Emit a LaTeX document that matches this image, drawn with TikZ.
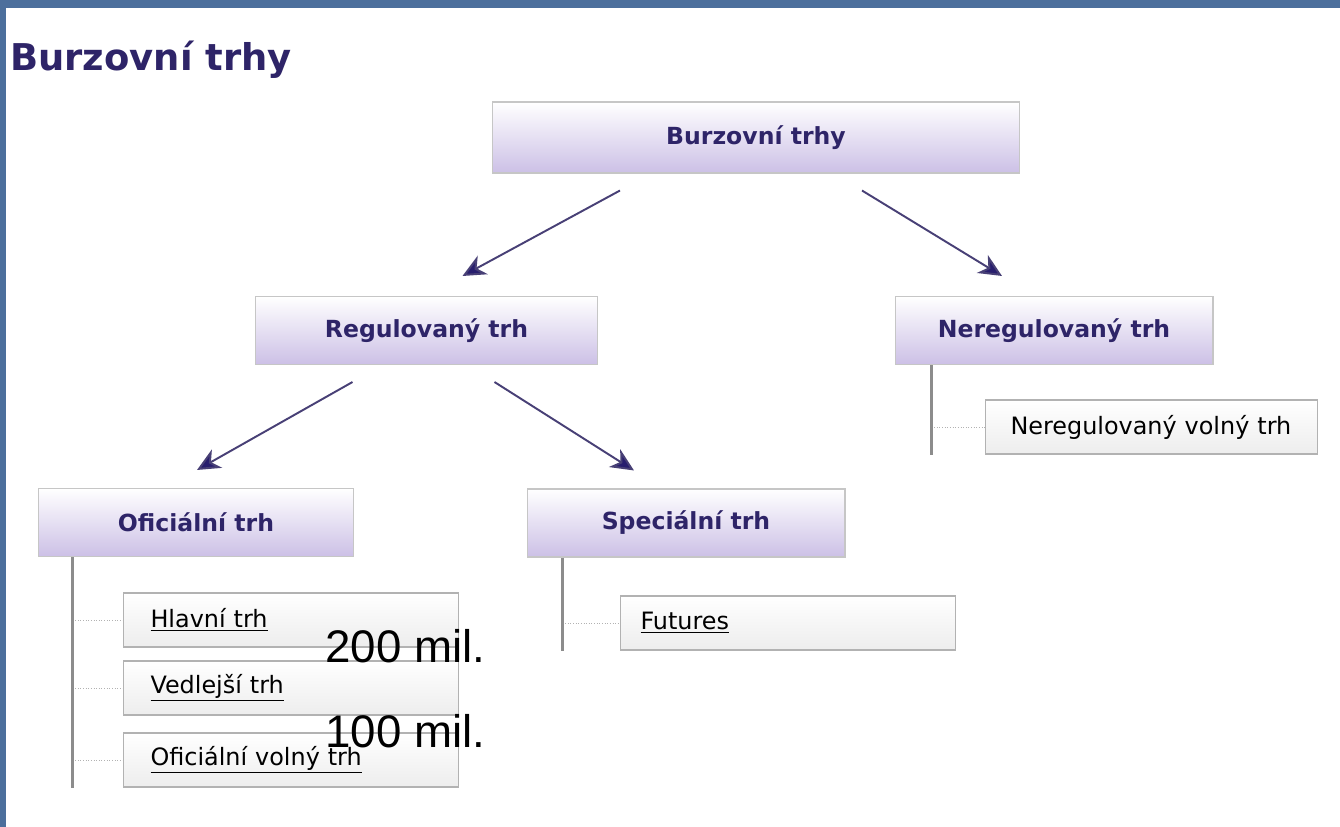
\documentclass[tikz,border=0pt]{standalone}
\usepackage{fontspec}
\newfontfamily\dejavu{DejaVu Sans}
\newfontfamily\arial{Liberation Sans}
\usetikzlibrary{arrows.meta,calc}
\definecolor{frameblue}{RGB}{76,111,156}
\definecolor{lav}{RGB}{204,192,230}
\definecolor{ink}{RGB}{46,36,104}
\definecolor{arrowcol}{RGB}{72,64,118}
\definecolor{headcol}{RGB}{40,30,110}
\tikzset{
  head/.style={draw=gray!45, line width=.6pt, top color=white, bottom color=lav,
    font=\dejavu\bfseries\fontsize{13.4}{15}\selectfont, text=ink,
    inner sep=0pt, minimum height=1.36cm},
  item/.style={draw=gray!60, line width=.6pt, top color=white, bottom color=gray!14,
    font=\dejavu\fontsize{13.6}{16}\selectfont, inner xsep=.54cm, inner ysep=0pt,
    minimum height=1.08cm, text width=5.62cm, align=left, anchor=west},
  arr/.style={draw=arrowcol, line width=1.1pt,
    -{Stealth[length=.46cm,width=.42cm,inset=.14cm,fill=headcol]}},
  bar/.style={draw=gray!90, line width=2pt},
  dotline/.style={draw=gray!60, densely dotted, line width=.5pt},
  big/.style={anchor=base west, inner sep=0pt, font=\arial\fontsize{26}{30}\selectfont}
}
\begin{document}
\begin{tikzpicture}[x=.02cm,y=-.02cm]
  % frame
  \fill[frameblue] (0,0) rectangle (1340,827);
  \fill[white] (6,8) rectangle (1340,827);
  \node[anchor=base west, inner sep=0pt, text=ink,
        font=\dejavu\bfseries\fontsize{21}{24}\selectfont] (title) at (10,71) {Burzovní trhy};

  % tree
  \node[head, minimum width=10.56cm, minimum height=1.42cm] (top) at (756,137.5) {Burzovní trhy};
  \node[head, minimum width=6.86cm] (reg) at (426.5,330.5) {Regulovaný trh};
  \node[head, minimum width=6.36cm] (nereg) at (1054,330.5) {Neregulovaný trh};
  \node[head, minimum width=6.32cm] (ofic) at (196,522.5) {Oficiální trh};
  \node[head, minimum width=6.36cm] (spec) at (686,523) {Speciální trh};

  \draw[arr] ($(top.south)+(-136,17)$) -- ($(reg.north)+(36,-20)$);
  \draw[arr] ($(top.south)+(106,17)$) -- ($(nereg.north)+(-52,-20)$);
  \draw[arr] ($(reg.south)+(-74,17)$) -- ($(ofic.north)+(1,-18)$);
  \draw[arr] ($(reg.south)+(68,17)$) -- ($(spec.north)+(-52,-18)$);

  % lists
  \coordinate (obar) at ($(ofic.south west)+(35,0)$);
  \foreach \n/\y/\t in {hl/620/Hlavní trh, ved/688/Vedlejší trh, ovt/760/Oficiální volný trh}{
    \node[item] (\n) at (123,\y) {\underline{\t}};
    \draw[dotline] (obar |- \n.west) -- (\n.west);
  }
  \draw[bar] (obar) -- (obar |- ovt.south);

  \coordinate (sbar) at ($(spec.south west)+(36,0)$);
  \node[item, inner xsep=.4cm, text width=5.9cm] (fut) at (620,623) {\underline{Futures}};
  \draw[dotline] (sbar |- fut.west) -- (fut.west);
  \draw[bar] (sbar) -- (sbar |- fut.south);

  \coordinate (nbar) at ($(nereg.south west)+(37,0)$);
  \node[item, inner xsep=.5cm, text width=5.64cm] (nvt) at (985,427) {Neregulovaný volný trh};
  \draw[dotline] (nbar |- nvt.west) -- (nvt.west);
  \draw[bar] (nbar) -- (nbar |- nvt.south);

  % overlay
  \node[big] (m200) at (325,663) {200 mil.};
  \node[big] (m100) at (325,747) {100 mil.};
\end{tikzpicture}
\end{document}
